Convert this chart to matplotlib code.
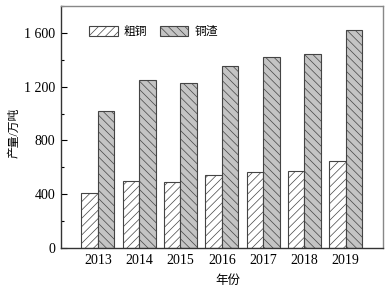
import numpy as np
import matplotlib
matplotlib.use('Agg')
import matplotlib.pyplot as plt
from matplotlib.ticker import MultipleLocator, FuncFormatter

plt.rcParams['font.family'] = ['Liberation Serif', 'Noto Sans CJK SC']
plt.rcParams['hatch.linewidth'] = 0.5

years = ['2013', '2014', '2015', '2016', '2017', '2018', '2019']
blister = [407, 499, 489, 544, 564, 576, 646]   # 粗铜
slag = [1020, 1249, 1227, 1356, 1420, 1445, 1619]  # 铜渣

fig = plt.figure(figsize=(3.89, 2.89), dpi=100)
ax = fig.add_axes([61 / 389, 41 / 289, 322 / 389, 242 / 289])

x = np.arange(len(years))
w = 0.4
ax.bar(x - w / 2, blister, w, color='white', edgecolor='#444444', hatch='////',
       linewidth=0.8, label='粗铜')
ax.bar(x + w / 2, slag, w, color='#c4c4c4', edgecolor='#444444', hatch='\\\\\\\\',
       linewidth=0.8, label='铜渣')

ax.set_xlim(-0.89, 6.9)
ax.set_ylim(0, 1800)
ax.set_xticks(x)
ax.set_xticklabels(years)
ax.yaxis.set_major_locator(MultipleLocator(400))
ax.yaxis.set_minor_locator(MultipleLocator(200))
ax.yaxis.set_major_formatter(FuncFormatter(
    lambda v, p: '{:,}'.format(int(v)).replace(',', ' ')))
ax.tick_params(axis='y', direction='in', length=4, width=0.8, labelsize=10, pad=4)
ax.tick_params(axis='y', which='minor', direction='in', length=2.5, width=0.8)
ax.tick_params(axis='x', length=0, labelsize=10, pad=4)

for s in ['left', 'bottom']:
    ax.spines[s].set_color('#333333')
    ax.spines[s].set_linewidth(1.0)
for s in ['top', 'right']:
    ax.spines[s].set_color('#888888')
    ax.spines[s].set_linewidth(1.0)

ax.set_xlabel('年份', fontsize=9)
ax.set_ylabel('产量/万吨', fontsize=8.5)
ax.xaxis.set_label_coords(0.519, -0.112)
ax.yaxis.set_label_coords(-0.127, 0.475)

ax.legend(loc='upper left', bbox_to_anchor=(0.055, 0.962), ncol=2, frameon=False,
          fontsize=8.5, handlelength=2.4, handleheight=0.9, columnspacing=1.1,
          handletextpad=0.5)

fig.savefig('out.png', dpi=100)
